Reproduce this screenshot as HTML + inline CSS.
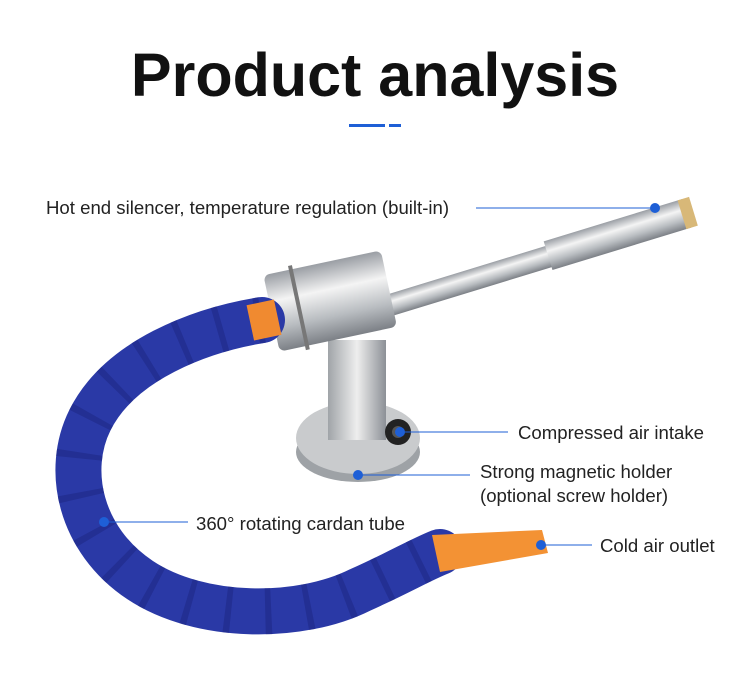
<!DOCTYPE html>
<html><head><meta charset="utf-8"><style>
body{margin:0;background:#fff;}
.w{position:relative;width:750px;height:698px;overflow:hidden;font-family:"Liberation Sans",sans-serif;}
.t{position:absolute;left:0;width:750px;top:40px;text-align:center;font-size:61px;font-weight:bold;color:#111;}
.l{position:absolute;font-size:18.6px;color:#222;white-space:nowrap;}
</style></head><body><div class="w">
<div class="t">Product analysis</div>
<svg width="750" height="698" style="position:absolute;left:0;top:0">
<rect x="349" y="124" width="36" height="3" fill="#1e5fd6"/><rect x="389" y="124" width="12" height="3" fill="#1e5fd6"/>
<defs>
<linearGradient id="m" x1="0" y1="0" x2="0" y2="1"><stop offset="0" stop-color="#9a9ea4"/><stop offset=".35" stop-color="#f4f4f4"/><stop offset=".7" stop-color="#b8bcc0"/><stop offset="1" stop-color="#7c8086"/></linearGradient>
<linearGradient id="mh" x1="0" y1="0" x2="1" y2="0"><stop offset="0" stop-color="#a0a4a8"/><stop offset=".5" stop-color="#eeeeee"/><stop offset="1" stop-color="#8c9096"/></linearGradient>
</defs>
<g transform="rotate(-17 410 300)">
<rect x="380" y="288" width="180" height="22" fill="url(#m)"/>
<rect x="555" y="283" width="145" height="30" fill="url(#m)"/>
<rect x="695" y="283" width="12" height="30" fill="#d8b878"/>
</g>
<rect x="328" y="340" width="58" height="100" fill="url(#mh)"/>
<ellipse cx="358" cy="452" rx="62" ry="30" fill="#9ea2a6"/>
<ellipse cx="358" cy="438" rx="62" ry="36" fill="#c9cbcd"/>
<rect x="328" y="360" width="58" height="80" fill="url(#mh)"/>
<circle cx="398" cy="432" r="13" fill="#222"/><circle cx="398" cy="432" r="6" fill="#555"/>
<g transform="rotate(-12 330 300)">
<rect x="270" y="262" width="120" height="78" rx="6" fill="url(#m)"/>
<rect x="296" y="258" width="4" height="86" fill="#777"/>
</g>
<path d="M262,320 C200,330 120,360 90,420 C65,470 80,540 140,580 C200,620 300,620 360,590 C400,572 420,560 440,552" fill="none" stroke="#2a39a6" stroke-width="46" stroke-linecap="round"/>
<path d="M262,320 C200,330 120,360 90,420 C65,470 80,540 140,580 C200,620 300,620 360,590 C400,572 420,560 440,552" fill="none" stroke="#1c2680" stroke-width="46" stroke-dasharray="6 34" opacity=".5"/>
<rect x="250" y="302" width="28" height="36" fill="#f08a30" transform="rotate(-12 264 320)"/>
<polygon points="432,535 440,572 548,553 542,530" fill="#f39234"/>
<g stroke="#1e5fd6" stroke-width="1">
<line x1="476" y1="208" x2="655" y2="208"/>
<line x1="400" y1="432" x2="508" y2="432"/>
<line x1="358" y1="475" x2="470" y2="475"/>
<line x1="104" y1="522" x2="188" y2="522"/>
<line x1="541" y1="545" x2="592" y2="545"/>
</g>
<g fill="#1e5fd6">
<circle cx="655" cy="208" r="5"/><circle cx="400" cy="432" r="5"/><circle cx="358" cy="475" r="5"/><circle cx="104" cy="522" r="5"/><circle cx="541" cy="545" r="5"/>
</g>
</svg>
<div class="l" style="left:46px;top:197px">Hot end silencer, temperature regulation (built-in)</div>
<div class="l" style="left:518px;top:422px">Compressed air intake</div>
<div class="l" style="left:480px;top:461px">Strong magnetic holder</div>
<div class="l" style="left:480px;top:485px">(optional screw holder)</div>
<div class="l" style="left:196px;top:513px">360° rotating cardan tube</div>
<div class="l" style="left:600px;top:535px">Cold air outlet</div>
</div></body></html>
